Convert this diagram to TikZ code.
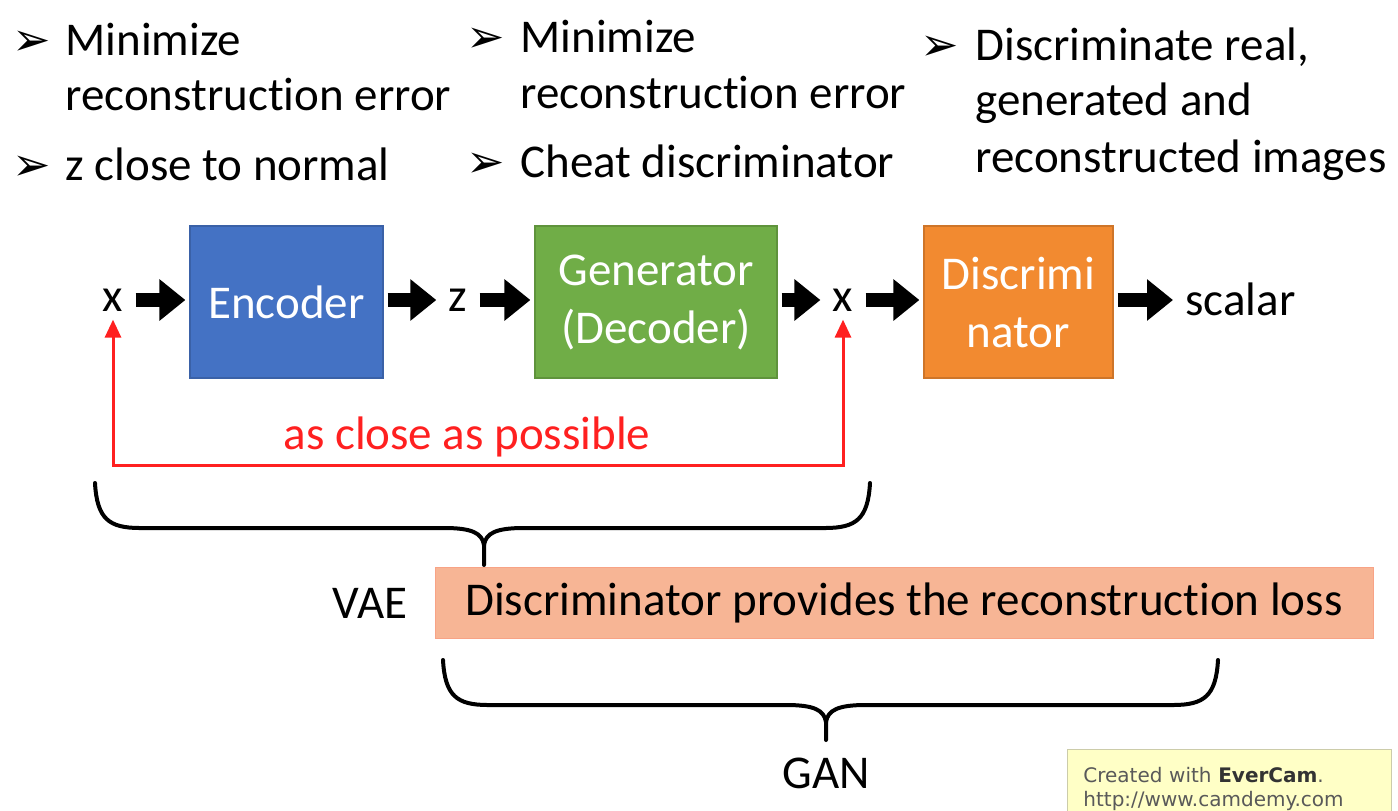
\documentclass[tikz,border=0pt]{standalone}
\usepackage{fontspec}
\setmainfont{Carlito}[Ligatures=NoCommon]
\newfontfamily\dingfont{DejaVu Sans}
\usepackage{tikz}
\usetikzlibrary{arrows.meta}
\definecolor{EncBlue}{HTML}{4472C4}
\definecolor{GenGreen}{HTML}{70AD47}
\definecolor{DisOrange}{HTML}{F28A30}
\definecolor{LossSalmon}{HTML}{F7B595}
\definecolor{CloseRed}{HTML}{FF2020}
\definecolor{NoteYellow}{HTML}{FFFFC6}
% curly brace: left x, right x, top y, tip x, tip y
\newcommand{\curlybrace}[5]{%
  \draw[brace] (#1,#3) .. controls (#1+2,#3+36) and (#1+14,#3+45) .. (#1+45,#3+45)
    -- (#4-40,#3+45) .. controls (#4-12,#3+45) and (#4-2,#3+50) .. (#4,#3+62) -- (#4,#5);
  \draw[brace] (#2,#3) .. controls (#2-2,#3+36) and (#2-14,#3+45) .. (#2-45,#3+45)
    -- (#4+40,#3+45) .. controls (#4+12,#3+45) and (#4+2,#3+50) .. (#4,#3+62);
}

\begin{document}
\begin{tikzpicture}[x=0.5pt, y=-0.5pt,
    every node/.style={font=\fontsize{23.5}{29}\selectfont, inner sep=0pt},
    bullet/.style={font=\dingfont\fontsize{23}{26}\selectfont, anchor=base west},
    item/.style={anchor=base west},
    lbl/.style={inner sep=4pt},
    block/.style={minimum height=76pt, text=white, align=center, line width=0.6pt},
    blk/.style={line width=7pt, -{Triangle[length=13pt,width=20pt]}, shorten <=2pt, shorten >=2pt},
    feedback/.style={draw=CloseRed, line width=1.5pt, {Triangle[length=9pt,width=8pt]}-{Triangle[length=9pt,width=8pt]}},
    brace/.style={line width=2pt, line cap=round}
  ]
  \useasboundingbox (0,0) rectangle (1398,810);

  % Objectives above each block
  \foreach \n/\px/\py in {1/12/55, 2/12/180, 3/466/52, 4/466/177, 5/920/60}
    \node[bullet] (bul\n) at (\px,\py) {➢};
  \foreach \n/\px/\py/\t in {a/65/55/Minimize, b/65/110/reconstruction error, c/65/180/z close to normal,
      d/520/52/Minimize, e/520/108/reconstruction error, f/520/177/Cheat discriminator,
      g/975/60/{Discriminate real,}, h/975/115/generated and, i/975/172/reconstructed images}
    \node[item] (goal\n) at (\px,\py) {\t};

  % The pipeline
  \node[lbl] (xin) at (113,300) {x};
  \node[block, fill=EncBlue, draw=EncBlue!85!black, minimum width=96.5pt] (enc) at (286.5,302) {Encoder};
  \node[lbl] (z) at (458,300) {z};
  \node[block, fill=GenGreen, draw=GenGreen!85!black, minimum width=121pt] (gen) at (656,302) {Generator\\(Decoder)};
  \node[lbl] (xout) at (843,300) {x};
  \node[block, fill=DisOrange, draw=DisOrange!85!black, minimum width=94.5pt] (dis) at (1018.5,302) {Discrimi\\nator};
  \node[lbl, anchor=base west] (scalar) at (1177,315) {scalar};

  \draw[blk] (xin) -- (xin -| enc.west);
  \draw[blk] (enc.east |- z) -- (z);
  \draw[blk] (z) -- (z -| gen.west);
  \draw[blk] (gen.east |- xout) -- (xout);
  \draw[blk] (xout) -- (xout -| dis.west);
  \draw[blk] (dis.east |- xout) -- (scalar.west |- xout);

  % Reconstruction
  \coordinate (low) at (0,465);
  \draw[feedback] (xin.south) -- (xin.south |- low) -- (xout.south |- low)
    node[pos=0.485, above=3pt, text=CloseRed] (close) {as close as possible} -- (xout.south);

  % VAE / GAN braces
  \curlybrace{95}{870}{483}{484}{565}
  \node[anchor=base] (vae) at (370,618) {VAE};
  \node[fill=LossSalmon, draw=LossSalmon!90!red, minimum width=469pt, minimum height=35.5pt] (loss) at (904,602.5) {Discriminator provides the reconstruction loss};
  \curlybrace{443}{1218}{660}{826}{740}
  \node[anchor=base] (gan) at (826,788) {GAN};

  % Recorder stamp
  \node[anchor=north west, fill=NoteYellow, draw=NoteYellow!60!gray, align=left,
    text width=146pt, minimum height=40pt, inner xsep=8pt, inner ysep=2.5pt,
    text=black!65, font=\dingfont\fontsize{10}{12}\selectfont] (camdemy) at (1067,749)
    {Created with \textbf{\color{black!80}EverCam}.\\http://www.camdemy.com};
\end{tikzpicture}
\end{document}
